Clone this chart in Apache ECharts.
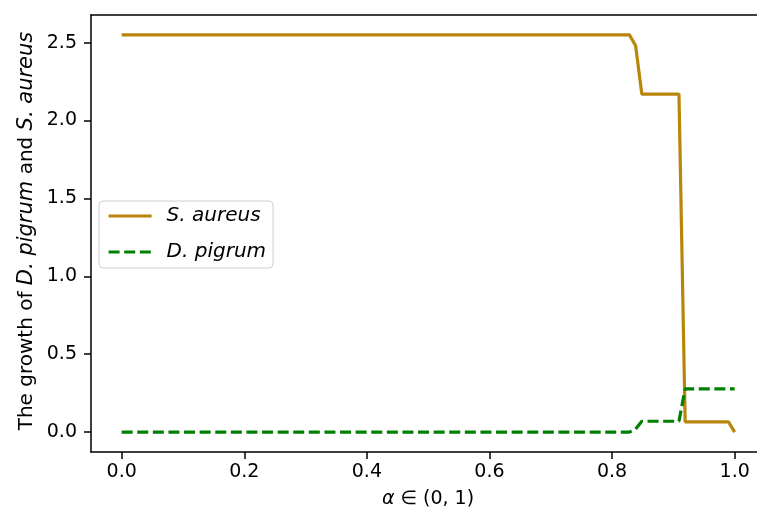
<!DOCTYPE html>
<html>
<head>
<meta charset="utf-8">
<script src="https://cdn.jsdelivr.net/npm/echarts@6/dist/echarts.min.js"></script>
<style>html,body{margin:0;padding:0;background:#fff}#c{width:757px;height:515px}</style>
</head>
<body>
<div id="c"></div>
<script>
// Breakpoints (alpha, value)
const aureusAlpha = [0, 0.8283, 0.8384, 0.8485, 0.9091, 0.9192, 0.9899, 1.0];
const aureusValue = [2.55, 2.55, 2.48, 2.17, 2.17, 0.066, 0.066, 0.0];
const pigrumAlpha = [0, 0.8283, 0.8384, 0.8485, 0.9091, 0.9192, 1.0];
const pigrumValue = [0, 0, 0.02, 0.07, 0.07, 0.278, 0.278];
const xTicks = [0, 0.2, 0.4, 0.6, 0.8, 1.0];
const yTicks = [0, 0.5, 1.0, 1.5, 2.0, 2.5];
const seriesNames = ['S. aureus', 'D. pigrum'];

const FONT = 'DejaVu Sans';
const chart = echarts.init(document.getElementById('c'), null, {renderer: 'canvas'});
const zip = (xs, ys) => xs.map((x, i) => [x, ys[i]]);
const frame = {show: true, onZero: false, lineStyle: {color: '#000', width: 1.5}};

chart.setOption({
  animation: false,
  backgroundColor: '#fff',
  grid: {left: 91, top: 15, right: 0, height: 437, show: false},
  xAxis: [{
    type: 'value', min: -0.05, max: 1.0364,
    axisLine: frame,
    splitLine: {show: false},
    axisTick: {show: true, customValues: xTicks, length: 7, inside: false, lineStyle: {color: '#000', width: 1.5}},
    axisLabel: {customValues: xTicks, formatter: v => v.toFixed(1), fontFamily: FONT, fontSize: 19, color: '#000', margin: 11}
  }, {
    type: 'value', position: 'top', min: -0.05, max: 1.0364,
    axisLine: frame, axisTick: {show: false}, axisLabel: {show: false}, splitLine: {show: false}
  }],
  yAxis: {
    type: 'value', min: -0.1275, max: 2.6775,
    axisLine: frame,
    splitLine: {show: false},
    axisTick: {show: true, customValues: yTicks, length: 7, inside: false, lineStyle: {color: '#000', width: 1.5}},
    axisLabel: {customValues: yTicks, formatter: v => v.toFixed(1), fontFamily: FONT, fontSize: 19, color: '#000', margin: 14}
  },
  legend: {
    orient: 'vertical', left: 99, top: 201,
    data: seriesNames,
    itemWidth: 43, itemHeight: 14, itemGap: 16,
    padding: [5, 7, 6, 8],
    borderColor: '#d0d0d0', borderWidth: 1, borderRadius: 4,
    backgroundColor: 'rgba(255,255,255,0.8)',
    itemStyle: {opacity: 0, color: 'transparent', borderWidth: 0},
    lineStyle: {width: 3.2},
    textStyle: {fontFamily: FONT, fontSize: 20, fontStyle: 'italic', color: '#000', padding: [0, 0, 0, 10]}
  },
  series: [
    {name: seriesNames[0], type: 'line', data: zip(aureusAlpha, aureusValue), symbol: 'none', showSymbol: false,
     lineStyle: {color: '#b8860b', width: 3.2}, itemStyle: {color: '#b8860b'}, z: 2},
    {name: seriesNames[1], type: 'line', data: zip(pigrumAlpha, pigrumValue), symbol: 'none', showSymbol: false,
     lineStyle: {color: '#008000', width: 3.2, type: [11, 4.6]}, itemStyle: {color: '#008000'}, z: 3}
  ],
  graphic: [
    {type: 'text', x: 27, y: 231, rotation: Math.PI / 2, style: {
      text: '{r|The growth of }{i|D. pigrum}{r| and }{i|S. aureus}',
      font: '20px "DejaVu Sans"', fill: '#000', align: 'center', verticalAlign: 'middle',
      rich: {
        r: {fontFamily: FONT, fontSize: 20, fill: '#000'},
        i: {fontStyle: 'italic', fontFamily: FONT, fontSize: 21, fill: '#000'}
      }
    }},
    {type: 'text', x: 428, y: 499, style: {
      text: '{i|α} ∈ (0, 1)',
      font: '19px "DejaVu Sans"', fill: '#000', align: 'center', verticalAlign: 'middle',
      rich: {i: {fontStyle: 'italic', fontFamily: FONT, fontSize: 19, fill: '#000'}}
    }}
  ]
});
</script>
</body>
</html>
